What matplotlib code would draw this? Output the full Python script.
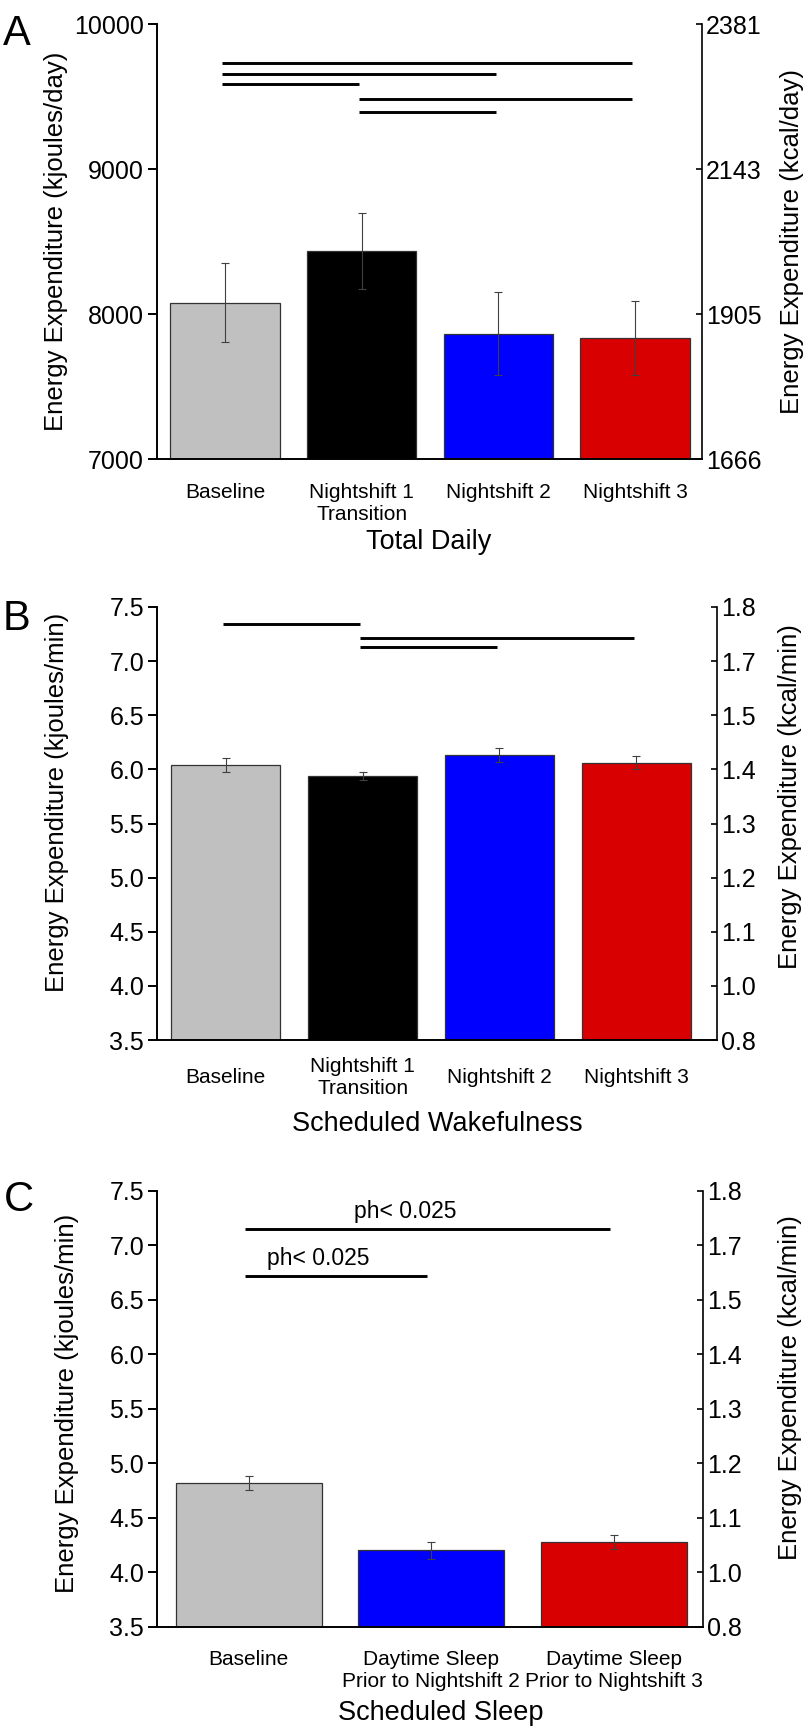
import matplotlib
matplotlib.use("Agg")
import matplotlib.pyplot as plt
import numpy as np

plt.rcParams['font.family'] = ['Liberation Sans', 'DejaVu Sans']

# ---- data ----
cats_wake = ['Baseline', 'Nightshift 1\nTransition', 'Nightshift 2', 'Nightshift 3']
cats_sleep = ['Baseline', 'Daytime Sleep\nPrior to Nightshift 2',
              'Daytime Sleep\nPrior to Nightshift 3']

daily_kj = [8080, 8437, 7865, 7835]
daily_err = [275, 260, 285, 253]
wake_kj = [6.04, 5.94, 6.135, 6.06]
wake_err = [0.068, 0.04, 0.065, 0.06]
sleep_kj = [4.82, 4.20, 4.277]
sleep_err = [0.063, 0.078, 0.068]

yticks_daily = [7000, 8000, 9000, 10000]
yticks_min = [3.5, 4.0, 4.5, 5.0, 5.5, 6.0, 6.5, 7.0, 7.5]
kcal_daily = ['1666', '1905', '2143', '2381']
kcal_min = ['0.8', '1.0', '1.1', '1.2', '1.3', '1.4', '1.5', '1.7', '1.8']

# significance bars: (from group, to group), height in kJ
sig_daily = [(0, 3), (0, 2), (0, 1), (1, 3), (1, 2)]
sig_daily_y = [9731, 9655, 9586, 9485, 9391]
sig_wake = [(0, 1), (1, 3), (1, 2)]
sig_wake_y = [7.343, 7.21, 7.13]
sig_sleep = [(0, 2), (0, 1)]
sig_sleep_y = [7.148, 6.722]
sig_sleep_txt = ['ph< 0.025', 'ph< 0.025']

col4 = ['#c0c0c0', '#000000', '#0000ff', '#d80000']
col3 = ['#c0c0c0', '#0000ff', '#d80000']

W, H = 808, 1728
fig = plt.figure(figsize=(W / 100, H / 100), dpi=100)


def box(l, t, r, b):
    return [l / W, 1 - b / H, (r - l) / W, (b - t) / H]


def panel(rect, cats, vals, errs, cols, ylim, yticks, ylabels, rlabels, xr,
          sigs, sig_y, va='top', pad=17):
    ax = fig.add_axes(rect)
    x = np.arange(len(cats))
    ax.bar(x, vals, width=0.8, color=cols, edgecolor='#333333', linewidth=0.9, zorder=2)
    ax.errorbar(x, vals, yerr=errs, fmt='none', ecolor='#404040', elinewidth=0.8,
                capsize=3, capthick=0.8, zorder=3)
    for (i, j), yy in zip(sigs, sig_y):
        ax.plot([i - 0.02, j - 0.02], [yy, yy], color='black', lw=2.1,
                solid_capstyle='butt', zorder=4)
    ax.set_xlim(-0.5, xr)
    ax.set_ylim(*ylim)
    ax.set_yticks(yticks)
    ax.set_yticklabels(ylabels)
    ax.set_xticks(x)
    ax.set_xticklabels(cats, fontsize=15, linespacing=1.2)
    for t in ax.get_xticklabels():
        t.set_va(va)
    ax.tick_params(axis='x', length=0, pad=pad)
    ax.tick_params(axis='y', direction='out', length=6.5, width=1.4, labelsize=18, pad=3)
    for s in ['top', 'right']:
        ax.spines[s].set_visible(False)
    for s in ['left', 'bottom']:
        ax.spines[s].set_linewidth(1.4)
    ax2 = ax.twinx()
    ax2.set_ylim(*ylim)
    ax2.set_yticks(yticks)
    ax2.set_yticklabels(rlabels)
    ax2.tick_params(axis='y', direction='in', length=4, width=1.2, labelsize=18, pad=3)
    for s in ['top', 'left', 'bottom']:
        ax2.spines[s].set_visible(False)
    ax2.spines['right'].set_linewidth(1.2)
    return ax


def fx(px):
    return px / W


def fy(px):
    return 1 - px / H


# Panel A
axa = panel(box(156.7, 24, 702, 459.3), cats_wake, daily_kj, daily_err, col4,
            (7000, 10000), yticks_daily, [str(v) for v in yticks_daily], kcal_daily,
            3.49, sig_daily, sig_daily_y)
fig.text(fx(429), fy(549), 'Total Daily', ha='center', va='baseline', fontsize=19.5)
fig.text(fx(55.5), fy(241), 'Energy Expenditure (kjoules/day)', rotation=90,
         ha='center', va='center', fontsize=18.5)
fig.text(fx(792), fy(241), 'Energy Expenditure (kcal/day)', rotation=90,
         ha='center', va='center', fontsize=18.5)
fig.text(fx(3), fy(14), 'A', ha='left', va='top', fontsize=30)

# Panel B
axb = panel(box(157.3, 607, 717, 1040), cats_wake, wake_kj, wake_err, col4,
            (3.5, 7.5), yticks_min, [f'{v:.1f}' for v in yticks_min], kcal_min,
            3.59, sig_wake, sig_wake_y, va='center', pad=27)
fig.text(fx(437), fy(1131), 'Scheduled Wakefulness', ha='center', va='baseline', fontsize=19.5)
fig.text(fx(56.7), fy(802), 'Energy Expenditure (kjoules/min)', rotation=90,
         ha='center', va='center', fontsize=18.5)
fig.text(fx(790), fy(797), 'Energy Expenditure (kcal/min)', rotation=90,
         ha='center', va='center', fontsize=18.5)
fig.text(fx(3), fy(599), 'B', ha='left', va='top', fontsize=30)

# Panel C
axc = panel(box(157.3, 1191, 703, 1626.7), cats_sleep, sleep_kj, sleep_err, col3,
            (3.5, 7.5), yticks_min, [f'{v:.1f}' for v in yticks_min], kcal_min,
            2.49, sig_sleep, sig_sleep_y)
for (xt, yy, s) in zip([0.86, 0.38], sig_sleep_y, sig_sleep_txt):
    axc.text(xt, yy + 0.055, s, ha='center', va='bottom', fontsize=16.5)
fig.text(fx(441), fy(1720), 'Scheduled Sleep', ha='center', va='baseline', fontsize=19.5)
fig.text(fx(67), fy(1403), 'Energy Expenditure (kjoules/min)', rotation=90,
         ha='center', va='center', fontsize=18.5)
fig.text(fx(790), fy(1388), 'Energy Expenditure (kcal/min)', rotation=90,
         ha='center', va='center', fontsize=18.5)
fig.text(fx(4), fy(1180), 'C', ha='left', va='top', fontsize=30)

fig.savefig('out.png', dpi=100)
